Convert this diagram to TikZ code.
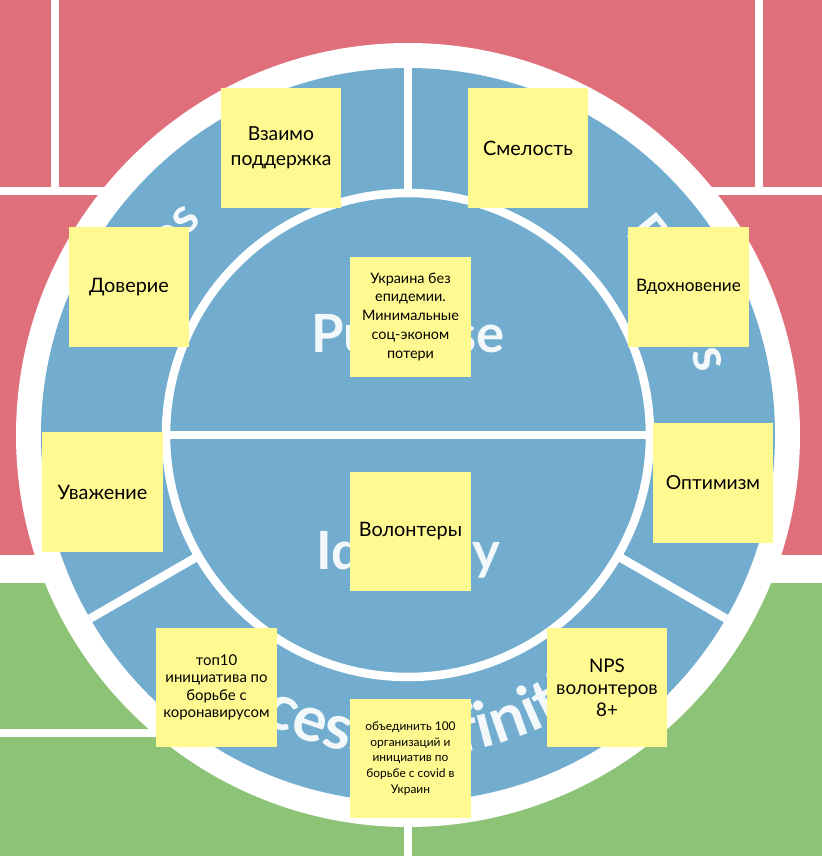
\documentclass[tikz,border=0pt]{standalone}
\usepackage{fontspec}
\setmainfont{Lato}
\newfontfamily\headface{Lato}
\usetikzlibrary{decorations.text}

\definecolor{bgpink}{RGB}{224,111,124}
\definecolor{bggreen}{RGB}{141,195,118}
\definecolor{ringblue}{RGB}{114,173,208}
\definecolor{notey}{RGB}{255,249,145}
\definecolor{ringtext}{RGB}{243,248,251}

% lettering that runs round the outer ring
\newcommand\ringfont{\headface\bfseries\fontsize{28}{34}\selectfont\color{ringtext}}
\newcommand\ringfontsmall{\headface\bfseries\fontsize{30}{36}\selectfont\color{ringtext}}
\newcommand\ringfontlarge{\headface\bfseries\fontsize{36}{42}\selectfont\color{ringtext}}

\tikzset{
  gridline/.style={white, line width=0.16cm},
  ringline/.style={white, line width=0.17cm},
  note/.style={fill=notey, minimum width=2.42cm, minimum height=2.4cm,
    inner sep=0pt, align=center, text=black},
  headword/.style={text=ringtext, font=\headface\bfseries\fontsize{30}{36}\selectfont},
}

\begin{document}
\begin{tikzpicture}[x=0.02cm, y=0.02cm]
\useasboundingbox (0,0) rectangle (822,856);

% background quadrants
\fill[white] (0,0) rectangle (822,856);
\fill[bgpink] (0,301) rectangle (822,856);
\fill[bggreen] (0,0) rectangle (822,273);
\draw[gridline] (55,856) -- (55,665);
\draw[gridline] (759,856) -- (759,665);
\draw[gridline] (0,665) -- (822,665);
\draw[gridline] (0,123) -- (408,123);
\draw[gridline] (408,123) -- (408,0);

% the wheel
\coordinate (C) at (408,421);
\fill[white] (C) circle[radius=392];
\fill[ringblue] (C) circle[radius=367];
\draw[ringline] (C) circle[radius=242];
\draw[ringline] ([shift={(90:242)}]C) -- ([shift={(90:367)}]C);
\draw[ringline] ([shift={(210:242)}]C) -- ([shift={(210:367)}]C);
\draw[ringline] ([shift={(330:242)}]C) -- ([shift={(330:367)}]C);
\draw[ringline] ([shift={(180:242)}]C) -- ([shift={(0:242)}]C);

% section titles
\node[headword, anchor=base] (purpose) at (408,503) {Purpose};
\node[headword, anchor=base] (identity) at (408,286) {Identity};
\path[decorate, decoration={text along path, text align=center,
  text={|\ringfont|Values}}]
  ([shift={(202:297)}]C) arc[start angle=202, end angle=94, radius=297];
\path[decorate, decoration={text along path, text align=center,
  text={|\ringfontsmall|Beliefs}}]
  ([shift={(61:295)}]C) arc[start angle=61, end angle=-6, radius=295];
\path[decorate, decoration={text along path, text align=center,
  text={|\ringfontlarge|Success definition}}]
  ([shift={(195:322)}]C) arc[start angle=195, end angle=345, radius=322];

% sticky notes
\node[note, font=\fontsize{11}{14.2}\selectfont] (n1) at (281,708) {Взаимо\\поддержка};
\node[note, font=\fontsize{11.3}{14.2}\selectfont] (n2) at (528,708) {Смелость};
\node[note, font=\fontsize{11.3}{14.2}\selectfont] (n3) at (129,569) {Доверие};
\node[note, font=\fontsize{9.8}{12}\selectfont] (n4) at (688.5,569) {Вдохновение};
\node[note, font=\fontsize{8.2}{10.8}\selectfont] (n5) at (410.5,539) {Украина без\\епидемии.\\Минимальные\\соц-эконом\\потери};
\node[note, font=\fontsize{11.3}{14.2}\selectfont] (n6) at (102.5,364) {Уважение};
\node[note, font=\fontsize{11}{14.2}\selectfont] (n7) at (713,373) {Оптимизм};
\node[note, font=\fontsize{11.3}{14.2}\selectfont] (n8) at (410.5,324.5) {Волонтеры};
\node[note, font=\fontsize{8.5}{10}\selectfont] (n9) at (216.5,168.5) {топ10\\инициатива по\\борьбе с\\коронавирусом};
\node[note, font=\fontsize{10.7}{12.5}\selectfont] (n10) at (607,168.5) {NPS\\волонтеров\\8+};
\node[note, font=\fontsize{6.8}{8.9}\selectfont] (n11) at (410.5,97.5) {объединить 100\\организаций и\\инициатив по\\борьбе с covid в\\Украин};
\end{tikzpicture}
\end{document}
